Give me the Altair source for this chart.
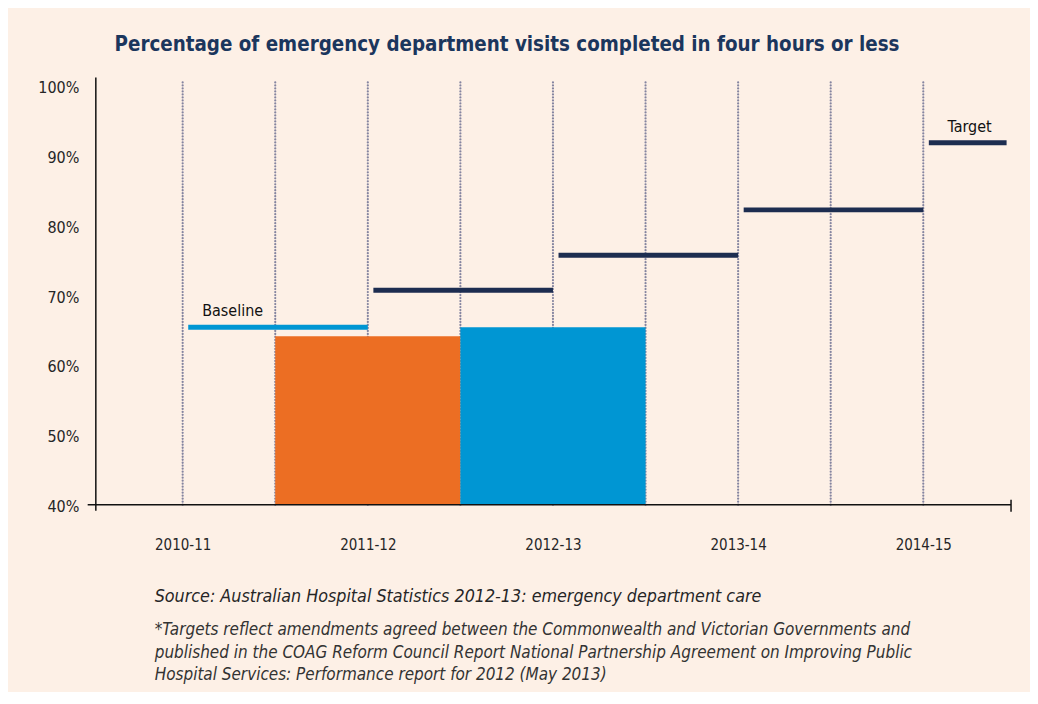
import altair as alt
import pandas as pd
import numpy as np

# ---------------- data ----------------
categories = ["2010-11", "2011-12", "2012-13", "2013-14", "2014-15"]
bar_years = ["2011-12", "2012-13"]
bar_values = [64.1, 65.4]
bar_colors = ["#EC6E23", "#0096D3"]
baseline_year = "2010-11"
baseline_value = 65.4
target_years = ["2011-12", "2012-13", "2013-14", "2014-15"]
target_values = [70.7, 75.7, 82.2, 91.8]
y_ticks = [40, 50, 60, 70, 80, 90, 100]

title_text = "Percentage of emergency department visits completed in four hours or less"
source_text = "Source: Australian Hospital Statistics 2012-13: emergency department care"
note_lines = [
    "*Targets reflect amendments agreed between the Commonwealth and Victorian Governments and",
    "published in the COAG Reform Council Report National Partnership Agreement on Improving Public",
    "Hospital Services: Performance report for 2012 (May 2013)",
]

# ---------------- style ----------------
FONT = "DejaVu Sans Condensed, Roboto Condensed, Liberation Sans"
BG = "#FDF0E6"
NAVY = "#1D2D50"
TEXT = "#262626"
DOT = "#8585A0"
X_DOMAIN = [-0.469, 4.474]
Y_DOMAIN = [40, 100]
GAP = 0.03
LAST_END = 4.45

idx = {c: i for i, c in enumerate(categories)}

bars = pd.DataFrame({
    "year": bar_years,
    "x": [idx[y] - 0.5 for y in bar_years],
    "x2": [idx[y] + 0.5 for y in bar_years],
    "y": [Y_DOMAIN[0]] * len(bar_years),
    "y2": bar_values,
    "color": bar_colors,
})

targets = pd.DataFrame({
    "year": target_years,
    "x": [idx[y] + GAP for y in target_years],
    "x2": [min(idx[y] + 1, LAST_END) for y in target_years],
    "v": target_values,
})

baseline = pd.DataFrame({
    "x": [idx[baseline_year] + GAP],
    "x2": [idx[baseline_year] + 1],
    "v": [baseline_value],
})

grid = pd.DataFrame({"x": np.arange(0, len(categories) - 0.99, 0.5)})

xs = alt.Scale(domain=X_DOMAIN, nice=False, zero=False)
ys = alt.Scale(domain=Y_DOMAIN, nice=False, zero=False)

label_expr = "[" + ",".join("'%s'" % c for c in categories) + "][datum.value]"

XAX = alt.Axis(
    values=list(range(len(categories))), labelExpr=label_expr,
    domain=False, ticks=False, grid=False, title=None,
    labelFont=FONT, labelFontSize=15, labelColor=TEXT, labelPadding=33)
YAX = alt.Axis(
    values=y_ticks, labelExpr="datum.value + '%'",
    domain=False, ticks=False, grid=False, title=None,
    labelFont=FONT, labelFontSize=16, labelColor=TEXT, labelPadding=17,
    labelOffset=2)


def X(f):
    return alt.X(f, scale=xs, axis=XAX, title=None)


def Y(f):
    return alt.Y(f, scale=ys, axis=YAX, title=None)


def XD(v):
    return alt.XDatum(v, scale=xs, axis=XAX, title=None)


def YD(v):
    return alt.YDatum(v, scale=ys, axis=YAX, title=None)


dots = alt.Chart(grid).mark_rule(
    color=DOT, strokeWidth=2.2, strokeDash=[0.1, 2.9], strokeCap="round"
).encode(x=X("x:Q"), y=YD(Y_DOMAIN[0]), y2=alt.datum(100.6))

bar_layer = alt.Chart(bars).mark_rect().encode(
    x=X("x:Q"), x2="x2:Q", y=Y("y:Q"), y2="y2:Q",
    color=alt.Color("color:N", scale=None),
)

target_layer = alt.Chart(targets).mark_rule(color=NAVY, strokeWidth=5).encode(
    x=X("x:Q"), x2="x2:Q", y=Y("v:Q"))

baseline_layer = alt.Chart(baseline).mark_rule(color="#0096D3", strokeWidth=5).encode(
    x=X("x:Q"), x2="x2:Q", y=Y("v:Q"))

one = pd.DataFrame({"a": [0]})
x_axis_line = alt.Chart(one).mark_rule(color="#111", strokeWidth=1.5).encode(
    x=XD(-0.513), x2=alt.datum(X_DOMAIN[1]), y=YD(Y_DOMAIN[0]))
y_axis_line = alt.Chart(one).mark_rule(color="#111", strokeWidth=1.5).encode(
    x=XD(X_DOMAIN[0]), y=YD(39.14), y2=alt.datum(101.14))
end_tick = alt.Chart(one).mark_rule(color="#111", strokeWidth=1.5).encode(
    x=XD(X_DOMAIN[1]), y=YD(39.0), y2=alt.datum(40.71))

ann = pd.DataFrame({"t": ["Baseline", "Target"], "x": [0.27, 4.25], "y": [67.7, 94.1]})
ann_layer = alt.Chart(ann).mark_text(font=FONT, fontSize=16, color="#111", baseline="middle").encode(
    x=X("x:Q"), y=Y("y:Q"), text="t:N")

title_layer = alt.Chart(one).mark_text(
    text=title_text, font=FONT, fontSize=20.4, fontWeight="bold", color="#1B365D",
    align="center", baseline="alphabetic").encode(x=alt.value(412), y=alt.value(-35))
source_layer = alt.Chart(one).mark_text(
    text=source_text, font=FONT, fontSize=17.8, fontStyle="italic", color=TEXT,
    align="left", baseline="alphabetic").encode(x=alt.value(59), y=alt.value(517))
note_layer = alt.Chart(one).mark_text(
    text=note_lines, font=FONT, fontSize=17, fontStyle="italic", color="#333",
    align="left", baseline="alphabetic", lineHeight=22.5).encode(x=alt.value(59), y=alt.value(551))

chart = alt.layer(
    dots, bar_layer, baseline_layer, target_layer,
    x_axis_line, y_axis_line, end_tick, ann_layer,
    title_layer, source_layer, note_layer,
).properties(
    width=917, height=420,
    padding={"left": 88, "top": 77, "right": 19, "bottom": 187},
    autosize=alt.AutoSizeParams(type="none"),
    background=BG,
).configure_view(stroke=None)

chart.save("out.html", embed_options={"renderer": "svg", "actions": False})
